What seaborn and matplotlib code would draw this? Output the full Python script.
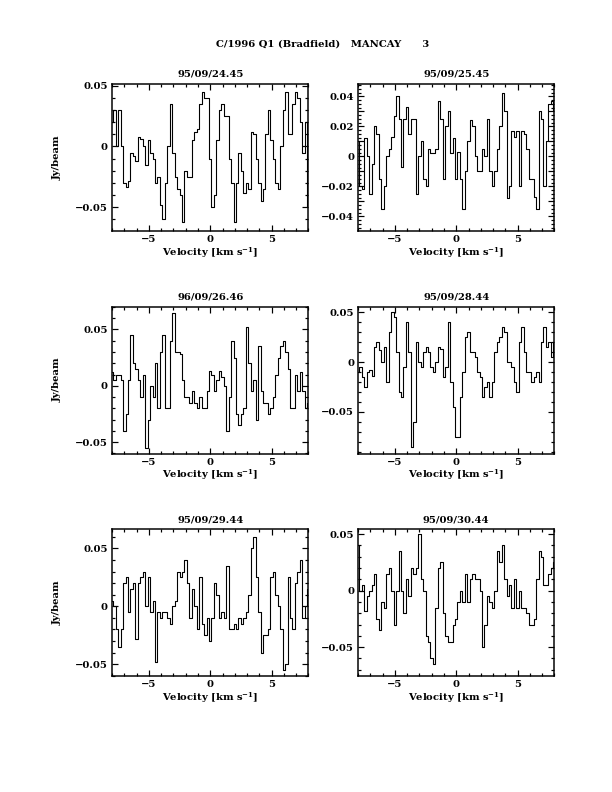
import numpy as np
import pandas as pd
import matplotlib
matplotlib.use("Agg")
import matplotlib.pyplot as plt
import seaborn as sns
from matplotlib.ticker import MultipleLocator, FuncFormatter

velocity = np.round(np.linspace(-8.0, 8.0, 81), 2)

dates = ["95/09/24.45", "95/09/25.45", "96/09/26.46",
         "95/09/28.44", "95/09/29.44", "95/09/30.44"]

spec_2445 = [0.02, 0.03, 0.0, 0.03, 0.0, -0.03, -0.033, -0.028, -0.005, -0.008,
             -0.012, 0.008, 0.006, 0.0, -0.015, 0.005, -0.005, -0.01, -0.03, -0.025,
             -0.048, -0.06, -0.03, 0.0, 0.035, -0.005, -0.025, -0.035, -0.04, -0.062,
             -0.02, -0.025, -0.025, 0.005, 0.012, 0.014, 0.035, 0.045, 0.04, 0.04,
             -0.01, -0.05, -0.04, 0.005, 0.03, 0.035, 0.025, 0.025, -0.01, -0.03,
             -0.062, -0.03, -0.005, -0.02, -0.038, -0.03, -0.035, 0.012, 0.01, -0.01,
             -0.03, -0.045, -0.035, 0.01, 0.03, 0.005, -0.01, -0.03, -0.035, 0.0,
             0.03, 0.045, 0.01, 0.01, 0.035, 0.045, 0.04, 0.02, -0.005, 0.02, -0.05]

spec_2545 = [0.01, -0.02, -0.022, 0.012, 0.0, -0.025, -0.005, 0.02, 0.015, -0.015,
             -0.035, -0.02, 0.0, 0.005, 0.013, 0.027, 0.04, 0.025, -0.007, 0.025,
             0.033, 0.015, 0.025, 0.025, -0.025, 0.0, 0.01, -0.015, -0.02, 0.005,
             0.002, 0.002, 0.005, 0.037, 0.025, -0.015, 0.02, 0.03, 0.002, 0.012,
             -0.015, 0.003, -0.015, -0.035, -0.01, 0.01, 0.024, 0.02, 0.0, -0.01,
             -0.01, 0.005, 0.0, 0.025, -0.01, -0.02, -0.01, 0.005, 0.02, 0.042,
             0.03, -0.028, -0.02, 0.017, 0.013, 0.017, -0.02, 0.017, 0.015, 0.005,
             -0.015, -0.015, -0.027, -0.035, 0.03, 0.025, -0.02, 0.01, 0.035, 0.037, 0.03]

spec_2646 = [0.012, 0.005, 0.01, 0.01, 0.005, -0.04, -0.025, 0.005, 0.045, 0.02,
             0.015, 0.005, -0.01, 0.01, -0.055, -0.03, 0.0, -0.01, 0.02, -0.02,
             0.03, 0.045, -0.02, -0.02, 0.04, 0.065, 0.03, 0.03, 0.028, 0.005,
             -0.01, -0.01, -0.015, -0.005, -0.015, -0.02, -0.01, -0.02, -0.02, -0.005,
             0.013, 0.01, -0.005, 0.005, 0.013, 0.008, 0.0, -0.04, -0.01, 0.04,
             0.025, -0.025, -0.035, -0.025, -0.02, 0.052, 0.02, -0.005, 0.005, -0.03,
             0.035, -0.005, -0.015, -0.015, -0.025, -0.02, -0.01, 0.01, 0.025, 0.035,
             0.04, 0.03, 0.015, -0.02, -0.02, 0.01, -0.005, 0.012, -0.005, -0.02, -0.015]

spec_2844 = [-0.01, -0.005, -0.015, -0.025, -0.01, -0.008, -0.014, 0.015, 0.02, 0.012,
             0.0, 0.015, -0.02, 0.03, 0.05, 0.045, 0.01, -0.03, -0.035, -0.005,
             0.04, 0.01, -0.085, -0.06, 0.02, 0.0, -0.005, 0.01, 0.015, 0.01,
             -0.005, -0.01, 0.0, 0.015, 0.013, -0.015, -0.005, 0.04, -0.02, -0.045,
             -0.075, -0.075, -0.035, -0.01, 0.025, 0.03, 0.01, 0.01, 0.005, -0.01,
             -0.015, -0.035, -0.025, -0.02, -0.035, -0.02, 0.01, 0.02, 0.025, 0.035,
             0.03, 0.0, 0.0, -0.005, -0.02, -0.03, 0.02, 0.035, 0.01, -0.01,
             -0.01, -0.02, -0.015, -0.01, -0.02, 0.02, 0.035, 0.015, 0.02, 0.005, 0.02]

spec_2944 = [0.005, 0.0, -0.02, -0.035, -0.02, 0.02, 0.025, -0.005, 0.015, 0.02,
             -0.028, 0.02, 0.025, 0.03, 0.0, 0.025, -0.005, 0.005, -0.048, -0.005,
             -0.01, -0.005, -0.005, -0.01, -0.015, 0.0, 0.005, 0.03, 0.025, 0.03,
             0.04, 0.02, -0.01, 0.015, 0.0, -0.02, 0.025, -0.015, -0.025, -0.01,
             -0.03, -0.01, 0.02, 0.01, -0.01, -0.005, -0.01, 0.035, -0.02, -0.02,
             -0.015, -0.02, -0.01, -0.015, -0.01, -0.005, 0.01, 0.05, 0.06, 0.025,
             -0.005, -0.04, -0.025, -0.025, -0.02, 0.025, 0.03, 0.01, 0.0, -0.02,
             -0.055, -0.05, 0.025, -0.01, -0.02, 0.02, 0.03, 0.04, -0.01, 0.0, 0.015]

spec_3044 = [0.04, 0.0, 0.005, -0.018, -0.005, 0.0, 0.005, 0.015, -0.025, -0.035,
             -0.01, -0.015, 0.015, 0.02, 0.0, -0.03, 0.0, 0.035, 0.0, -0.02,
             0.01, -0.005, 0.02, 0.015, 0.02, 0.05, 0.01, 0.0, -0.04, -0.045,
             -0.06, -0.065, -0.015, 0.02, 0.025, -0.02, -0.04, -0.045, -0.045, -0.03,
             -0.025, -0.01, 0.0, -0.01, 0.015, -0.01, 0.01, 0.015, 0.01, 0.01,
             0.0, -0.05, -0.03, -0.005, -0.01, -0.015, 0.0, 0.035, 0.025, 0.04,
             0.01, -0.005, 0.005, -0.015, 0.01, -0.015, 0.0, -0.015, -0.015, -0.02,
             -0.03, -0.03, -0.025, 0.01, 0.035, 0.03, 0.005, 0.005, 0.015, 0.02, 0.025]

spectra = [spec_2445, spec_2545, spec_2646, spec_2844, spec_2944, spec_3044]
ylims = [(-0.0697, 0.0514), (-0.0499, 0.0482), (-0.0603, 0.0704),
         (-0.092, 0.0557), (-0.0606, 0.0668), (-0.0758, 0.0544)]

sns.set_style("ticks", {"axes.edgecolor": "black", "text.color": "black",
                        "axes.labelcolor": "black", "xtick.color": "black",
                        "ytick.color": "black"})
plt.rcParams['font.family'] = ['DejaVu Serif']
plt.rcParams['font.weight'] = 'bold'
plt.rcParams['mathtext.fontset'] = 'dejavuserif'
plt.rcParams['mathtext.default'] = 'bf'

fig = plt.figure(figsize=(8.5, 11), dpi=72)
lefts = [0.183, 0.585]
bottoms = [0.708, 0.427, 0.146]
w, h = 0.321, 0.186
fs = 10


def fmt_val(v, p):
    if abs(v) < 1e-9:
        return "0"
    return f"{v:.2f}".replace("-", "\u2212")


for i, (date, spec, yl) in enumerate(zip(dates, spectra, ylims)):
    r, c = divmod(i, 2)
    ax = fig.add_axes([lefts[c], bottoms[r], w, h])
    df = pd.DataFrame({"velocity": velocity, "flux": spec})
    sns.lineplot(data=df, x="velocity", y="flux", ax=ax, color="black",
                 lw=1.1, drawstyle="steps-mid", estimator=None)
    ax.set_xlim(-8, 8)
    ax.set_ylim(*yl)
    ax.xaxis.set_major_locator(MultipleLocator(5))
    ax.xaxis.set_minor_locator(MultipleLocator(1))
    if i == 1:
        ax.yaxis.set_major_locator(MultipleLocator(0.01))
        ax.yaxis.set_minor_locator(MultipleLocator(0.0025))
        ax.yaxis.set_major_formatter(FuncFormatter(
            lambda v, p: fmt_val(v, p) if round(v / 0.01) % 2 == 0 else ""))
    else:
        ax.yaxis.set_major_locator(MultipleLocator(0.05))
        ax.yaxis.set_minor_locator(MultipleLocator(0.01))
        ax.yaxis.set_major_formatter(FuncFormatter(fmt_val))
    ax.xaxis.set_major_formatter(FuncFormatter(
        lambda v, p: "0" if abs(v) < 1e-9 else f"{v:.0f}".replace("-", "\u2212")))
    ax.tick_params(which="both", direction="in", top=True, right=True,
                   labelsize=fs, width=1.2, pad=4, color="black", labelcolor="black")
    ax.tick_params(which="major", length=6)
    ax.tick_params(which="minor", length=3)
    for s in ax.spines.values():
        s.set_linewidth(1.5)
        s.set_color("black")
    ax.set_xlabel("Velocity [km s$^{-1}$]", fontsize=fs, fontweight="bold",
                  labelpad=1, color="black")
    if c == 0:
        ax.set_ylabel("Jy/beam", fontsize=fs, fontweight="bold", labelpad=13,
                      color="black")
    else:
        ax.set_ylabel("")
    ax.set_title(date, fontsize=fs, fontweight="bold", pad=7, color="black")

fig.text(0.527, 0.944, "C/1996 Q1 (Bradfield)   MANCAY      3",
         ha="center", va="center", fontsize=fs, fontweight="bold", color="black")

fig.savefig("out.png", dpi=72, facecolor="white")
